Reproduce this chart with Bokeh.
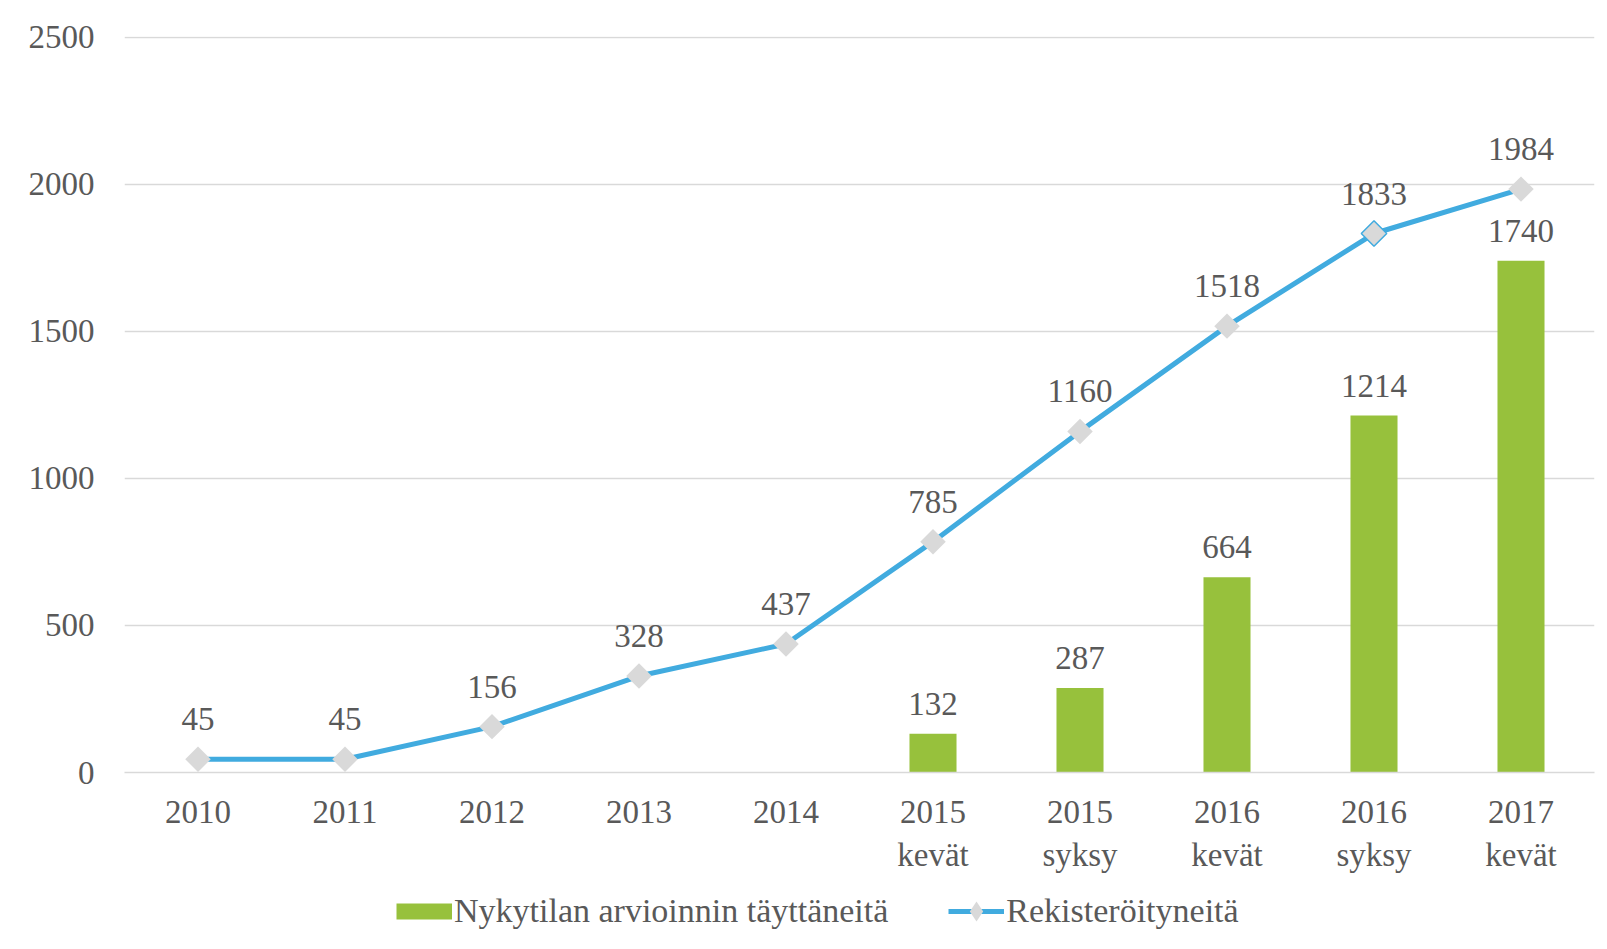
import math
from bokeh.plotting import figure
from bokeh.layouts import column
from bokeh.models import (ColumnDataSource, LabelSet, Legend, LegendItem,
                          FixedTicker, Range1d, FactorRange)
from bokeh.core.properties import value
from bokeh.embed import file_html
from bokeh.resources import INLINE

# ---- data ----
categories = ["2010", "2011", "2012", "2013", "2014",
              "2015\nkevät", "2015\nsyksy", "2016\nkevät", "2016\nsyksy", "2017\nkevät"]
registered = [45, 45, 156, 328, 437, 785, 1160, 1518, 1833, 1984]
bar_categories = ["2015\nkevät", "2015\nsyksy", "2016\nkevät", "2016\nsyksy", "2017\nkevät"]
assessed = [132, 287, 664, 1214, 1740]
y_ticks = [0, 500, 1000, 1500, 2000, 2500]
bar_label = "Nykytilan arvioinnin täyttäneitä"
line_label = "Rekisteröityneitä"

FONT = "Liberation Serif"
TXT = "#595959"
GREEN = "#97C13C"
BLUE = "#41ABDF"
GREY = "#D9D9D9"

p = figure(x_range=FactorRange(*categories), y_range=Range1d(0, 2503),
           width=1607, height=887, output_backend="svg", toolbar_location=None,
           min_border_left=124, min_border_right=13, min_border_top=36,
           min_border_bottom=115)
p.x_range.range_padding = 0
p.outline_line_color = None
p.background_fill_color = "white"

# axes
p.xaxis.major_label_text_font = FONT
p.xaxis.major_label_text_font_size = "33px"
p.xaxis.major_label_text_color = TXT
p.xaxis.major_tick_line_color = None
p.xaxis.minor_tick_line_color = None
p.xaxis.axis_line_color = GREY
p.xaxis.axis_line_width = 1.5
p.xaxis.major_label_standoff = 15

p.yaxis.ticker = FixedTicker(ticks=y_ticks)
p.yaxis.major_label_text_font = FONT
p.yaxis.major_label_text_font_size = "33px"
p.yaxis.major_label_text_color = TXT
p.yaxis.major_tick_line_color = None
p.yaxis.minor_tick_line_color = None
p.yaxis.axis_line_color = None
p.yaxis.major_label_standoff = 24

p.xgrid.grid_line_color = None
p.ygrid.grid_line_color = GREY
p.ygrid.grid_line_width = 1.5

# bars
bar_src = ColumnDataSource(dict(x=bar_categories, y=assessed,
                                label=[str(v) for v in assessed]))
bars = p.vbar(x="x", top="y", width=0.32, source=bar_src,
              fill_color=GREEN, line_color=None)

# line
line_src = ColumnDataSource(dict(x=categories, y=registered,
                                 label=[str(v) for v in registered]))
line = p.line(x="x", y="y", source=line_src, line_color=BLUE, line_width=5)
markers = p.scatter(x="x", y="y", source=line_src, marker="square", size=18,
                    angle=math.pi / 4, fill_color=GREY, line_color=None)
hl_src = ColumnDataSource(dict(x=[categories[8]], y=[registered[8]]))
p.scatter(x="x", y="y", source=hl_src, marker="square", size=18,
          angle=math.pi / 4, fill_color=GREY, line_color=BLUE, line_width=1.5)

# data labels
p.add_layout(LabelSet(x="x", y="y", text="label", source=bar_src,
                      text_align="center", text_baseline="middle", y_offset=30,
                      text_font=value(FONT), text_font_size="33px",
                      text_color=TXT))
p.add_layout(LabelSet(x="x", y="y", text="label", source=line_src,
                      text_align="center", text_baseline="middle", y_offset=40,
                      text_font=value(FONT), text_font_size="33px",
                      text_color=TXT))

# ---- legend strip (separate figure below the chart) ----
lg = figure(width=1607, height=62, output_backend="svg", toolbar_location=None,
            x_axis_type=None, y_axis_type=None, min_border=0,
            x_range=Range1d(0, 1), y_range=Range1d(0, 1))
lg.outline_line_color = None
lg.xgrid.grid_line_color = None
lg.ygrid.grid_line_color = None
nan = float("nan")
dummy = ColumnDataSource(dict(x=[nan], y=[nan]))
# swatch for the bar series: a thick butt-capped stroke gives a flat rectangle
lbar = lg.line(x="x", y="y", source=dummy, line_color=GREEN, line_width=16,
               line_cap="butt")
lline = lg.line(x="x", y="y", source=dummy, line_color=BLUE, line_width=5)
lmark = lg.scatter(x="x", y="y", source=dummy, marker="diamond", size=20,
                   fill_color=GREY, line_color=None)

legend = Legend(items=[LegendItem(label=bar_label, renderers=[lbar]),
                       LegendItem(label=line_label, renderers=[lline, lmark])],
                orientation="horizontal", location=(272, 13),
                glyph_width=56, glyph_height=50, label_standoff=2, spacing=60,
                padding=0, margin=0, border_line_color=None,
                background_fill_alpha=0, label_text_font=FONT,
                label_text_font_size="34px", label_text_color=TXT)
lg.add_layout(legend, "center")

layout = column(p, lg, spacing=0)
open("out.html", "w").write(file_html(layout, INLINE))
